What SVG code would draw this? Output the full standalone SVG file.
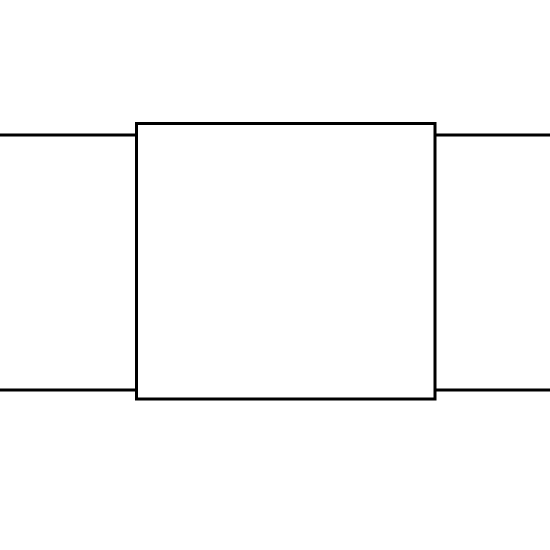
<svg xmlns="http://www.w3.org/2000/svg" width="550" height="550" viewBox="0 0 550 550">
<style>
.s{fill:none;stroke:#000;stroke-width:3}
.b{fill:#fff;stroke:#000;stroke-width:3}
</style>
<rect width="550" height="550" fill="#fff"/>
<g id="connectors">
<line class="s" x1="0" y1="135" x2="136" y2="135"/>
<line class="s" x1="0" y1="390" x2="136" y2="390"/>
<line class="s" x1="435" y1="135" x2="550" y2="135"/>
<line class="s" x1="435" y1="390" x2="550" y2="390"/>
</g>
<g id="node1">
<rect class="b" x="136.5" y="123.5" width="298.5" height="275.5"/>
</g>
</svg>
